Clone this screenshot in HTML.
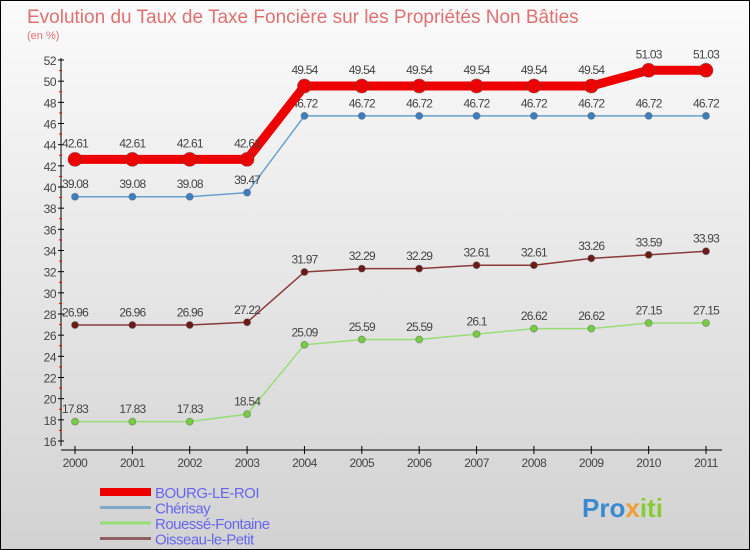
<!DOCTYPE html>
<html><head><meta charset="utf-8"><style>
body{margin:0}
#c{width:750px;height:550px;position:relative;background:linear-gradient(#fbfbfb,#d2d2d2);box-sizing:border-box;border:1px solid #000;overflow:hidden;font-family:"Liberation Sans",sans-serif}
</style></head><body>
<div id="c">
<svg id="s" width="750" height="550" style="position:absolute;left:-1px;top:-1px">
<text x="27" y="23" font-size="19" fill="#e07070">Evolution du Taux de Taxe Foncière sur les Propriétés Non Bâties</text>
<text x="27" y="39" font-size="11" fill="#e07070">(en %)</text>
<text x="582" y="517" font-size="26" font-weight="bold"><tspan fill="#3a8ad0">Pro</tspan><tspan fill="#f0a030">x</tspan><tspan fill="#88cc33">iti</tspan></text>
</svg>
</div>
<script>
const years=["2000","2001","2002","2003","2004","2005","2006","2007","2008","2009","2010","2011"];
const bourg=[42.61,42.61,42.61,42.61,49.54,49.54,49.54,49.54,49.54,49.54,51.03,51.03];
const cherisay=[39.08,39.08,39.08,39.47,46.72,46.72,46.72,46.72,46.72,46.72,46.72,46.72];
const rouesse=[17.83,17.83,17.83,18.54,25.09,25.59,25.59,26.1,26.62,26.62,27.15,27.15];
const oisseau=[26.96,26.96,26.96,27.22,31.97,32.29,32.29,32.61,32.61,33.26,33.59,33.93];
const yTicks=[16,18,20,22,24,26,28,30,32,34,36,38,40,42,44,46,48,50,52];
const seriesNames=["BOURG-LE-ROI","Chérisay","Rouessé-Fontaine","Oisseau-le-Petit"];
const NS="http://www.w3.org/2000/svg",s=document.getElementById('s');
const X=i=>75+i*(706-75)/11, Y=v=>441-(v-16)*(381/36);
function el(t,a,txt){const e=document.createElementNS(NS,t);for(const k in a)e.setAttribute(k,a[k]);if(txt!==undefined)e.textContent=txt;s.appendChild(e);return e;}
let e=el('line',{x1:61,y1:58,x2:61,y2:446,stroke:'#000'});

e=el('line',{x1:61,y1:450,x2:722,y2:450,stroke:'#000'});

yTicks.forEach((v,i)=>{
 el('line',{x1:58,x2:64,y1:Y(v),y2:Y(v),stroke:'#000'});
 if(i<yTicks.length-1)el('line',{x1:59,x2:62,y1:Y(v+1),y2:Y(v+1),stroke:'#e00'});
 e=el('text',{x:56,y:Y(v)+5,'text-anchor':'end','font-size':12,fill:'#444','letter-spacing':'-0.5'},v);
 
});
years.forEach((y,i)=>{
 el('line',{x1:X(i),x2:X(i),y1:446,y2:454,stroke:'#000'});
 e=el('text',{x:X(i),y:467,'text-anchor':'middle','font-size':12,fill:'#444','letter-spacing':'-0.5'},y);
 
});
function series(d,col,w,r,name,fillc){
 const p=el('polyline',{points:d.map((v,i)=>X(i)+','+Y(v)).join(' '),fill:'none',stroke:col,'stroke-width':w});
 
 d.forEach((v,i)=>{
  const c=el('circle',{cx:X(i),cy:Y(v),r:r,fill:fillc,stroke:'#555','stroke-opacity':0.4});
  
  const t=el('text',{x:X(i),y:Y(v)-(r+5),'text-anchor':'middle','font-size':12,fill:'#444','letter-spacing':'-0.8'},String(v));
  
 });
}
series(oisseau,'#8b3a3a',1.5,3.5,'oisseau','#6b1a1a');
series(rouesse,'#99dd77',1.5,3.5,'rouesse','#77cc44');
series(cherisay,'#6aa0d0',1.5,3.5,'cherisay','#3a80c0');
series(bourg,'#ee0000',9,7,'bourg','#ee0000');
const lc=['#ee0000','#7fa8c8','#99dd77','#906060'],lw=[8,3,3,3];
seriesNames.forEach((n,i)=>{
 const y=492+i*15.5;
 el('line',{x1:100,x2:151,y1:y,y2:y,stroke:lc[i],'stroke-width':lw[i]});
 e=el('text',{x:155,y:y+6,'font-size':15,fill:'#6666ee','letter-spacing':'-0.5'},n);
 
});
</script>
</body></html>
